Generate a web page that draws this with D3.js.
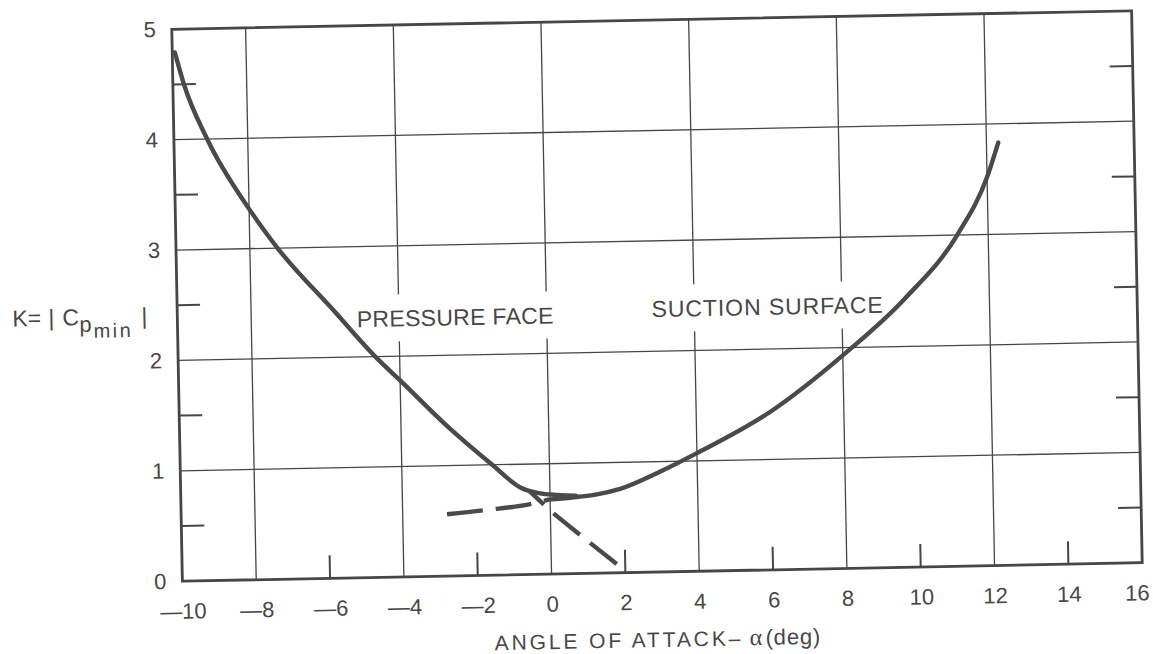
<!DOCTYPE html>
<html>
<head>
<meta charset="utf-8">
<script src="https://cdn.jsdelivr.net/npm/d3@7"></script>
<style>
  html, body { margin: 0; padding: 0; background: #fff; }
  svg { display: block; }
  text { font-family: "Liberation Sans", Arial, Helvetica, sans-serif; fill: #474747; }
</style>
</head>
<body>
<svg id="chart" width="1153" height="654"></svg>
<script>
// Pressure face: |Cp min| against angle of attack (solid branch)
const pressureAlpha = [-9.93, -9.7, -9.1, -8.0, -7.25, -5.75, -4.66, -4.0, -2.66, -1.55, -0.8, -0.3, 0.2, 0.7];
const pressureK     = [4.79, 4.5, 4.0, 3.36, 3.0, 2.42, 2.0, 1.78, 1.33, 1.0, 0.79, 0.735, 0.715, 0.705];
// Pressure face continued past the crossover (dashed)
const pressureExtAlpha = [-0.54, 0.08, 0.79, 1.77];
const pressureExtK     = [0.75, 0.55, 0.35, 0.08];
// Suction surface (solid branch)
const suctionAlpha = [-0.05, 0.6, 1.2, 1.9, 3.0, 4.0, 6.0, 8.0, 9.7, 11.16, 12.0, 12.32];
const suctionK     = [0.675, 0.69, 0.71, 0.76, 0.91, 1.07, 1.43, 1.93, 2.43, 3.0, 3.52, 3.83];
// Suction surface continued below the crossover (dashed)
const suctionExtAlpha = [-2.8, -1.8, -0.5, -0.05];
const suctionExtK     = [0.56, 0.59, 0.64, 0.675];

// Axis ticks and grid
const xTickValues = [-10, -8, -6, -4, -2, 0, 2, 4, 6, 8, 10, 12, 14, 16];
const yTickValues = [0, 1, 2, 3, 4, 5];
const xGridValues = [-8, -4, 0, 4, 8, 12];
const yGridValues = [1, 2, 3, 4];
const xMinorTicks = [-6, -2, 2, 6, 10, 14];
const yMinorTicks = [0.5, 1.5, 2.5, 3.5, 4.5];

// Texts
const curveLabelTexts = ["PRESSURE FACE", "SUCTION SURFACE"];
const xTitleText = "ANGLE OF ATTACK–";
const xTitleSymbol = "α";
const xTitleUnit = "(deg)";

const ink = "#464646";
const svg = d3.select("#chart");
const plot = { left: 177, right: 1137, top: 20, bottom: 572 };

const x = d3.scaleLinear().domain([-10, 16]).range([plot.left, plot.right]);
const y = d3.scaleLinear().domain([0, 5]).range([plot.bottom, plot.top]);

// the whole sheet sits slightly askew
const root = svg.append("g")
  .attr("transform", `rotate(-1.1, ${(plot.left + plot.right) / 2}, ${(plot.top + plot.bottom) / 2})`);

// grid
const grid = root.append("g").attr("stroke", ink).attr("stroke-width", 1.3);
grid.selectAll("line.v").data(xGridValues).join("line")
  .attr("x1", d => x(d)).attr("x2", d => x(d))
  .attr("y1", plot.top).attr("y2", plot.bottom);
grid.selectAll("line.h").data(yGridValues).join("line")
  .attr("y1", d => y(d)).attr("y2", d => y(d))
  .attr("x1", plot.left).attr("x2", plot.right);

// minor ticks pointing into the plot
const tickLen = 23;
const ticks = root.append("g").attr("stroke", ink).attr("stroke-width", 2);
ticks.selectAll("line.b").data(xMinorTicks).join("line")
  .attr("x1", d => x(d)).attr("x2", d => x(d))
  .attr("y1", plot.bottom).attr("y2", plot.bottom - tickLen);
ticks.selectAll("line.l").data(yMinorTicks).join("line")
  .attr("y1", d => y(d)).attr("y2", d => y(d))
  .attr("x1", plot.left).attr("x2", plot.left + tickLen);
ticks.selectAll("line.r").data(yMinorTicks).join("line")
  .attr("y1", d => y(d)).attr("y2", d => y(d))
  .attr("x1", plot.right).attr("x2", plot.right - tickLen);

// frame
root.append("rect")
  .attr("x", plot.left).attr("y", plot.top)
  .attr("width", plot.right - plot.left).attr("height", plot.bottom - plot.top)
  .attr("fill", "none").attr("stroke", ink).attr("stroke-width", 2.8);

// curve labels on a clear patch that interrupts the grid
const labelPlaces = [
  { a: -5.14, k: 2.27, spacing: 0.3 },
  { a: 2.85, k: 2.31, spacing: 0.9 }
];
const labelG = root.append("g");
curveLabelTexts.forEach((txt, i) => {
  const p = labelPlaces[i];
  const t = labelG.append("text")
    .attr("x", x(p.a)).attr("y", y(p.k))
    .attr("font-size", 23).attr("letter-spacing", p.spacing)
    .text(txt);
  const bb = t.node().getBBox();
  labelG.insert("rect", "text")
    .attr("x", bb.x - 6).attr("y", bb.y - 11)
    .attr("width", bb.width + 12).attr("height", bb.height + 21)
    .attr("fill", "#fff");
});

// curves
const smooth = d3.line().x(d => x(d[0])).y(d => y(d[1])).curve(d3.curveMonotoneX);
const zip = (a, b) => a.map((v, i) => [v, b[i]]);
const curves = root.append("g").attr("fill", "none").attr("stroke", "#4a4a4a")
  .attr("stroke-width", 4.4).attr("stroke-linecap", "round");
curves.append("path").attr("d", smooth(zip(pressureAlpha, pressureK)));
curves.append("path").attr("d", smooth(zip(suctionAlpha, suctionK)));
// dashes laid from the outer end inward
curves.append("path")
  .attr("d", d3.line().x(d => x(d[0])).y(d => y(d[1]))(zip(pressureExtAlpha, pressureExtK).reverse()))
  .attr("stroke-dasharray", "34,13").attr("stroke-linecap", "butt");
curves.append("path")
  .attr("d", smooth(zip(suctionExtAlpha, suctionExtK)))
  .attr("stroke-dasharray", "36,13").attr("stroke-linecap", "butt");

// tick labels
const fmt = d => d < 0 ? "—" + Math.abs(d) : String(d);
const styleText = g => g.selectAll("text").attr("font-size", 22).attr("fill", "#474747")
  .style("font-family", '"Liberation Sans", Arial, sans-serif');
root.append("g")
  .attr("transform", `translate(0,${plot.bottom})`)
  .call(d3.axisBottom(x).tickValues(xTickValues).tickSize(0).tickPadding(22).tickFormat(fmt))
  .call(g => g.select(".domain").remove())
  .call(styleText)
  .call(g => g.selectAll(".tick").filter(d => d === 16).select("text").attr("dx", -6));

root.append("g")
  .attr("transform", `translate(${plot.left},0)`)
  .call(d3.axisLeft(y).tickValues(yTickValues).tickSize(0).tickPadding(16).tickFormat(d3.format("d")))
  .call(g => g.select(".domain").remove())
  .call(styleText);

// x-axis title
const xt = root.append("text").attr("x", 488).attr("y", 647).attr("font-size", 21);
xt.append("tspan").attr("letter-spacing", 2.9).text(xTitleText);
xt.append("tspan").attr("x", 743).attr("font-family", '"Liberation Serif", "DejaVu Serif", serif')
  .attr("font-size", 24).text(xTitleSymbol);
xt.append("tspan").attr("x", 759).attr("font-size", 22).attr("letter-spacing", 0.8).text(xTitleUnit);

// y-axis title: K = |Cp_min|
const yt = root.append("text").attr("x", 12).attr("y", 314).attr("font-size", 23);
yt.append("tspan").text("K=");
yt.append("tspan").attr("x", 48).text("|");
yt.append("tspan").attr("x", 62).text("C");
yt.append("tspan").attr("x", 79).attr("dy", 7).attr("font-size", 22).text("p");
yt.append("tspan").attr("x", 93).attr("dy", 6).attr("font-size", 20).attr("letter-spacing", 2.5).text("min");
yt.append("tspan").attr("x", 141).attr("dy", -13).text("|");
</script>
</body>
</html>
